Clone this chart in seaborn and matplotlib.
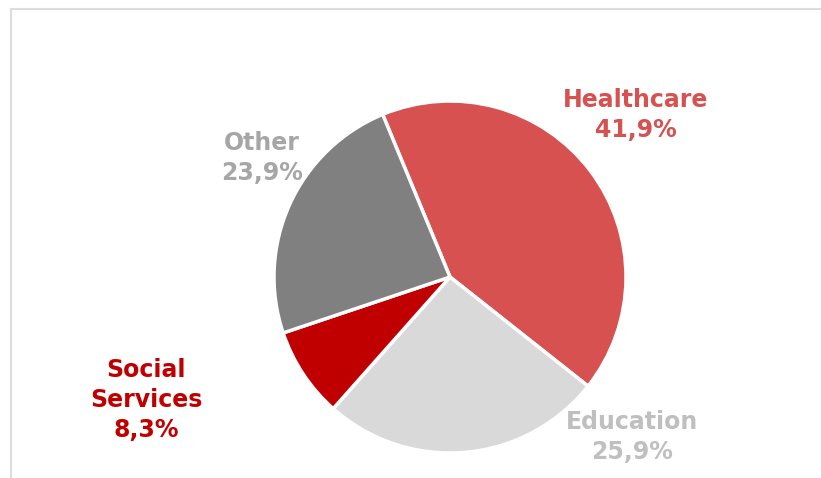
import matplotlib
matplotlib.use("Agg")
import matplotlib.pyplot as plt
import seaborn as sns
from matplotlib.lines import Line2D

# data
categories = ["Healthcare", "Education", "Social\nServices", "Other"]
shares = [41.9, 25.9, 8.3, 23.9]
wedge_colors = ["#D75151", "#D9D9D9", "#C00000", "#808080"]
label_colors = ["#D75151", "#BFBFBF", "#C00000", "#A6A6A6"]

# label anchor points in pixels (x from left, y from top)
label_px = [(636, 115), (632, 437), (146, 400), (262, 158)]

W, H = 821, 478
CX, CY, R = 450, 277, 176

sns.set_theme(style="white")
plt.rcParams["font.family"] = ["DejaVu Sans"]

fig = plt.figure(figsize=(W / 100, H / 100), dpi=100)
ax = fig.add_axes([0, 0, 1, 1])

ax.pie(
    shares,
    colors=wedge_colors,
    startangle=112.5,
    counterclock=False,
    wedgeprops=dict(edgecolor="white", linewidth=2.5),
)
ax.set_xlim(-CX / R, (W - CX) / R)
ax.set_ylim((CY - H) / R, CY / R)
ax.set_aspect("auto")
ax.axis("off")

for name, val, col, (px, py) in zip(categories, shares, label_colors, label_px):
    txt = f"{name}\n{val:.1f}%".replace(".", ",")
    ax.text((px - CX) / R, (CY - py) / R, txt, color=col, fontsize=17,
            fontweight="bold", ha="center", va="center", linespacing=1.3)

# light frame (top and left edges visible)
fig.add_artist(Line2D([11 / W, 1], [1 - 8.5 / H, 1 - 8.5 / H],
                      transform=fig.transFigure, color="#DDDDDD", lw=1.5))
fig.add_artist(Line2D([11 / W, 11 / W], [0, 1 - 8.5 / H],
                      transform=fig.transFigure, color="#DDDDDD", lw=1.5))

fig.savefig("out.png", dpi=100)
